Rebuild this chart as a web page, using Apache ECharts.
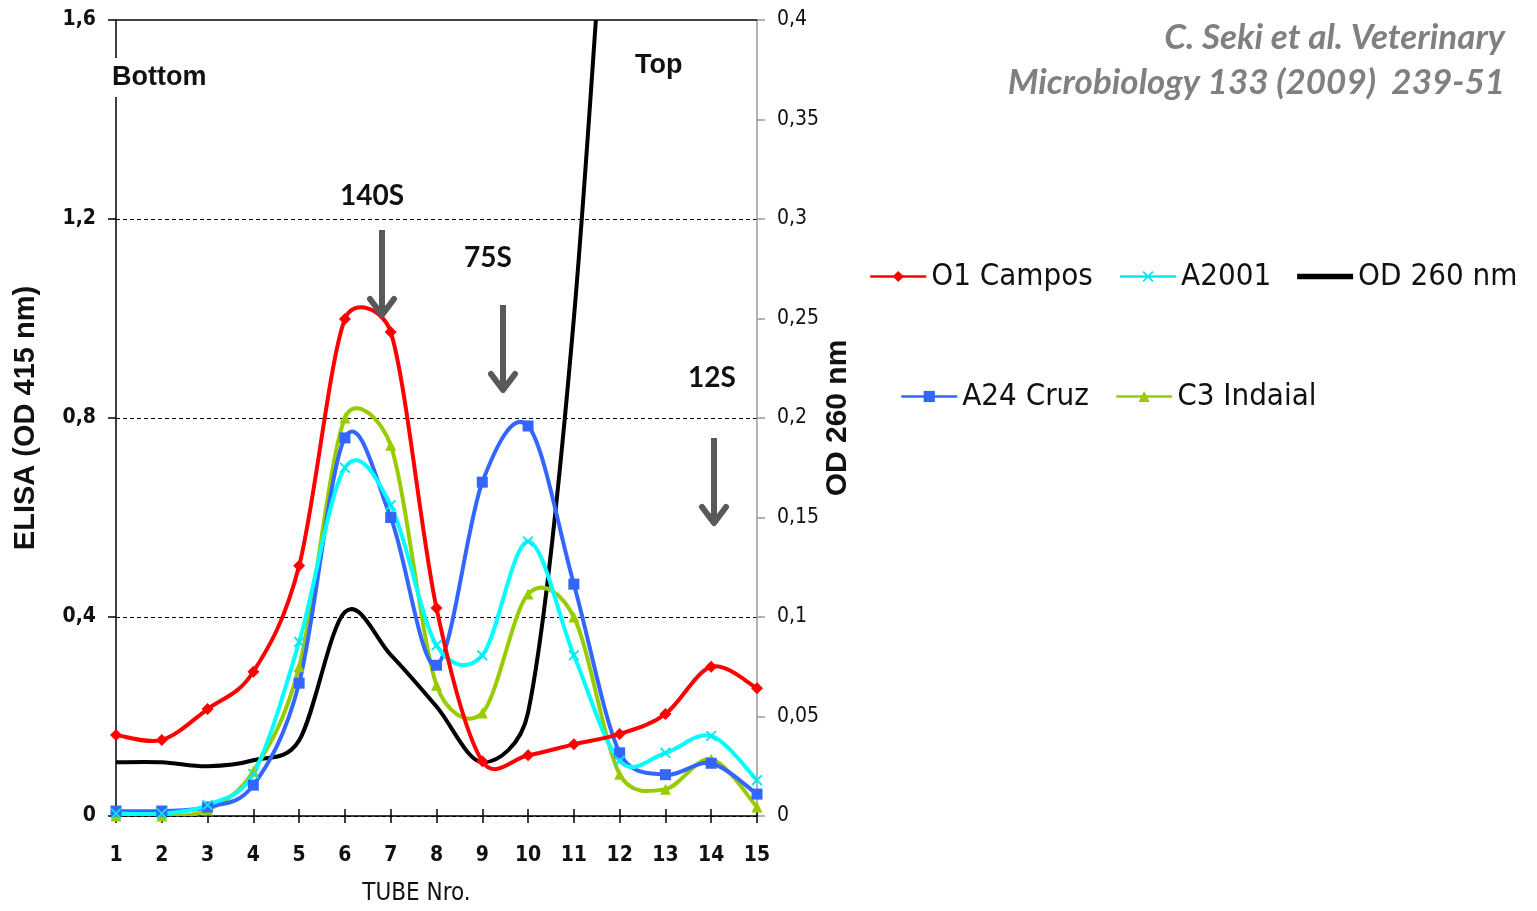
<!DOCTYPE html>
<html>
<head>
<meta charset="utf-8">
<script src="https://cdn.jsdelivr.net/npm/echarts@6/dist/echarts.min.js"></script>
<style>
html,body{margin:0;padding:0;background:#fff;overflow:hidden;}
#c{width:1537px;height:911px;}
</style>
</head>
<body>
<div id="c"></div>
<script>
// ---- data ----
const tubes = [1,2,3,4,5,6,7,8,9,10,11,12,13,14,15];
const o1Campos  = [0.163,0.153,0.215,0.29,0.503,0.999,0.973,0.418,0.11,0.122,0.144,0.165,0.205,0.30,0.257];
const a2001     = [0.005,0.005,0.022,0.085,0.35,0.70,0.625,0.343,0.323,0.552,0.323,0.111,0.127,0.161,0.072];
const a24Cruz   = [0.01,0.01,0.018,0.062,0.267,0.76,0.60,0.303,0.671,0.784,0.466,0.127,0.083,0.106,0.044];
const c3Indaial = [0.0,0.0,0.012,0.09,0.30,0.80,0.745,0.263,0.207,0.446,0.40,0.084,0.054,0.114,0.018];
const od260     = [0.027,0.027,0.025,0.028,0.038,0.1025,0.081,0.055,0.027,0.052,0.25,0.58];
const leftTicks  = {min:0, max:1.6, interval:0.4};
const rightTicks = {min:0, max:0.4, interval:0.05};

const pairs = arr => arr.map((v,i)=>[tubes[i], v]);

const narrow = "'Liberation Sans Narrow','DejaVu Sans Condensed','Arial Narrow',sans-serif";
const arial = "'Liberation Sans',Arial,sans-serif";
const xMark = 'path://M0,1.2L1.2,0L5,3.8L8.8,0L10,1.2L6.2,5L10,8.8L8.8,10L5,6.2L1.2,10L0,8.8L3.8,5Z';
const TENSION = 1/6;

// Excel-like smoothed curve drawn through the axis scales (api.coord)
function smoothCurve(values, yAxisIndex, color, width, z){
  const data = pairs(values);
  return {
    type:'custom', name:'_curve_'+color, yAxisIndex:yAxisIndex, clip:true, z:z, silent:true,
    data:data,
    encode:{x:0, y:1},
    renderItem:function(params, api){
      if (params.dataIndex !== 0) return null;
      const p = data.map(d => api.coord(d));
      const n = p.length;
      const dist = (a,b)=>Math.hypot(a[0]-b[0], a[1]-b[1]);
      const cpPrev = [], cpNext = [];
      for (let i=0;i<n;i++){
        const prev = p[Math.max(0,i-1)], next = p[Math.min(n-1,i+1)];
        const vx = (next[0]-prev[0])*TENSION, vy = (next[1]-prev[1])*TENSION;
        const len = Math.hypot(vx,vy) || 1;
        const d0 = dist(prev,p[i]), d1 = dist(p[i],next);
        const lb = Math.min(len, 0.5*d0 || len) / len;
        const lf = Math.min(len, 0.5*d1 || len) / len;
        cpPrev.push([p[i][0]-vx*lb, p[i][1]-vy*lb]);
        cpNext.push([p[i][0]+vx*lf, p[i][1]+vy*lf]);
      }
      let path = 'M'+p[0][0]+' '+p[0][1];
      for (let i=0;i<n-1;i++){
        path += ' C'+cpNext[i][0]+' '+cpNext[i][1]+' '+cpPrev[i+1][0]+' '+cpPrev[i+1][1]+' '+p[i+1][0]+' '+p[i+1][1];
      }
      return {type:'path', shape:{pathData:path}, style:{stroke:color, lineWidth:width, fill:'none', lineJoin:'round'}};
    }
  };
}

function markerSeries(name, values, symbol, size, color, z){
  return {name:name, type:'line', data:pairs(values), symbol:symbol, symbolSize:size, showSymbol:true,
    lineStyle:{color:color, width:0, opacity:0}, itemStyle:{color:color}, z:z};
}

const chart = echarts.init(document.getElementById('c'), null, {renderer:'canvas', width:1537, height:911});

function arrow(x, y1, tip){
  return [
    {type:'line', shape:{x1:x,y1:y1,x2:x,y2:tip-4}, style:{stroke:'#595959', lineWidth:6}, z:100},
    {type:'polyline', shape:{points:[[x-12,tip-19],[x,tip-3],[x+12,tip-19]]}, style:{stroke:'#595959', lineWidth:6, fill:null, lineJoin:'round', lineCap:'round'}, z:100}
  ];
}

const legendText = {fontFamily:narrow, fontSize:31, color:'#111'};
const option = {
  animation:false,
  backgroundColor:'#fff',
  grid:{left:116, right:780, top:20, bottom:87, containLabel:false},
  legend:[
    {data:['O1 Campos','A2001',{name:'OD 260 nm', icon:'path://M0,0H60V6H0Z'}], left:864, top:256, itemWidth:56, itemHeight:14, itemGap:26,
     lineStyle:{width:2.5, opacity:1}, textStyle:legendText},
    {data:['A24 Cruz','C3 Indaial'], left:895, top:376, itemWidth:56, itemHeight:14, itemGap:26,
     lineStyle:{width:2.5, opacity:1}, textStyle:legendText}
  ],
  xAxis:[
    {type:'value', min:1, max:15, interval:1, position:'bottom',
     name:'TUBE Nro.', nameLocation:'middle', nameGap:66,
     nameTextStyle:{fontFamily:narrow, fontSize:24, color:'#111', padding:[0,40,0,0]},
     axisLine:{show:true, onZero:false, lineStyle:{color:'#000', width:1.5}},
     axisTick:{show:true, length:7, lineStyle:{color:'#000', width:1.5}},
     axisLabel:{margin:29, fontFamily:narrow, fontSize:21, fontWeight:'bold', color:'#111'},
     splitLine:{show:false}},
    {type:'value', min:1, max:15, interval:1, position:'bottom',
     axisLine:{show:false}, axisLabel:{show:false}, splitLine:{show:false},
     axisTick:{show:true, inside:true, length:7, lineStyle:{color:'#000', width:1.5}}},
    {type:'value', min:1, max:15, interval:1, position:'top',
     axisLine:{show:true, onZero:false, lineStyle:{color:'#444', width:2}},
     axisLabel:{show:false}, axisTick:{show:false}, splitLine:{show:false}}
  ],
  yAxis:[
    {type:'value', min:leftTicks.min, max:leftTicks.max, interval:leftTicks.interval, position:'left',
     name:'ELISA (OD 415 nm)', nameLocation:'middle', nameRotate:90, nameGap:76,
     nameTextStyle:{fontFamily:arial, fontSize:29, fontWeight:'bold', color:'#111'},
     axisLine:{show:true, onZero:false, lineStyle:{color:'#000', width:1.5}},
     axisTick:{show:true, length:8, lineStyle:{color:'#000', width:1.5}},
     axisLabel:{margin:20, fontFamily:narrow, fontSize:21, fontWeight:'bold', color:'#111',
       formatter:v=> v===0 ? '0' : v.toFixed(1).replace('.',',')},
     splitLine:{show:true, lineStyle:{color:'#000', type:[4,3], width:1}}},
    {type:'value', min:rightTicks.min, max:rightTicks.max, interval:rightTicks.interval, position:'right',
     name:'OD 260 nm', nameLocation:'middle', nameRotate:90, nameGap:46,
     nameTextStyle:{fontFamily:arial, fontSize:30, fontWeight:'bold', color:'#111'},
     axisLine:{show:true, lineStyle:{color:'#999', width:1.5}},
     axisTick:{show:true, length:8, lineStyle:{color:'#999', width:1.5}},
     axisLabel:{margin:20, fontFamily:narrow, fontSize:21, color:'#111',
       formatter:v=> v===0 ? '0' : String(+v.toFixed(2)).replace('.',',')},
     splitLine:{show:false}}
  ],
  series:[
    smoothCurve(od260, 1, '#000000', 4, 2),
    smoothCurve(c3Indaial, 0, '#99CC00', 4, 3),
    smoothCurve(a24Cruz, 0, '#3366FF', 4, 4),
    smoothCurve(a2001, 0, '#00FFFF', 4, 5),
    smoothCurve(o1Campos, 0, '#FF0000', 4, 6),
    {name:'OD 260 nm', type:'line', yAxisIndex:1, data:pairs(od260), symbol:'none', showSymbol:false,
     lineStyle:{color:'#000', width:0, opacity:0}, itemStyle:{color:'#000'}, z:2},
    markerSeries('C3 Indaial', c3Indaial, 'triangle', 11, '#99CC00', 7),
    markerSeries('A24 Cruz', a24Cruz, 'rect', 11, '#3366FF', 8),
    markerSeries('A2001', a2001, xMark, 11, '#00E8F0', 9),
    markerSeries('O1 Campos', o1Campos, 'diamond', 12, '#FF0000', 10)
  ],
  graphic:[
    {type:'text', left:112, top:58, z:100,
     style:{text:'Bottom', fontFamily:arial, fontSize:27, fontWeight:'bold', fill:'#111',
            backgroundColor:'#fff', padding:[6,0,6,0]}},
    {type:'text', left:635, top:52, z:100,
     style:{text:'Top', fontFamily:arial, fontSize:27, fontWeight:'bold', fill:'#111'}},
    {type:'text', left:340, top:182, z:100,
     style:{text:'140S', fontFamily:"Lato,'Open Sans',sans-serif", fontSize:28, fontWeight:'bold', fill:'#111'}},
    {type:'text', left:464, top:244, z:100,
     style:{text:'75S', fontFamily:"Lato,'Open Sans',sans-serif", fontSize:28, fontWeight:'bold', fill:'#111'}},
    {type:'text', left:688, top:364, z:100,
     style:{text:'12S', fontFamily:"Lato,'Open Sans',sans-serif", fontSize:28, fontWeight:'bold', fill:'#111'}},
    ...arrow(382, 230, 318),
    ...arrow(503, 305, 393),
    ...arrow(714, 438, 526),
    {type:'text', right:32, top:20, z:100,
     style:{text:'C. Seki et al. Veterinary', fontFamily:"Lato,'Open Sans',sans-serif", fontSize:35, fontWeight:'bold', fontStyle:'italic', fill:'#808080', align:'right'}},
    {type:'text', right:32, top:65, z:100,
     style:{text:'Microbiology 133 (2009)  239-51', fontFamily:"Lato,'Open Sans',sans-serif", fontSize:35, fontWeight:'bold', fontStyle:'italic', fill:'#808080', align:'right'}}
  ]
};
chart.setOption(option);
</script>
</body>
</html>
